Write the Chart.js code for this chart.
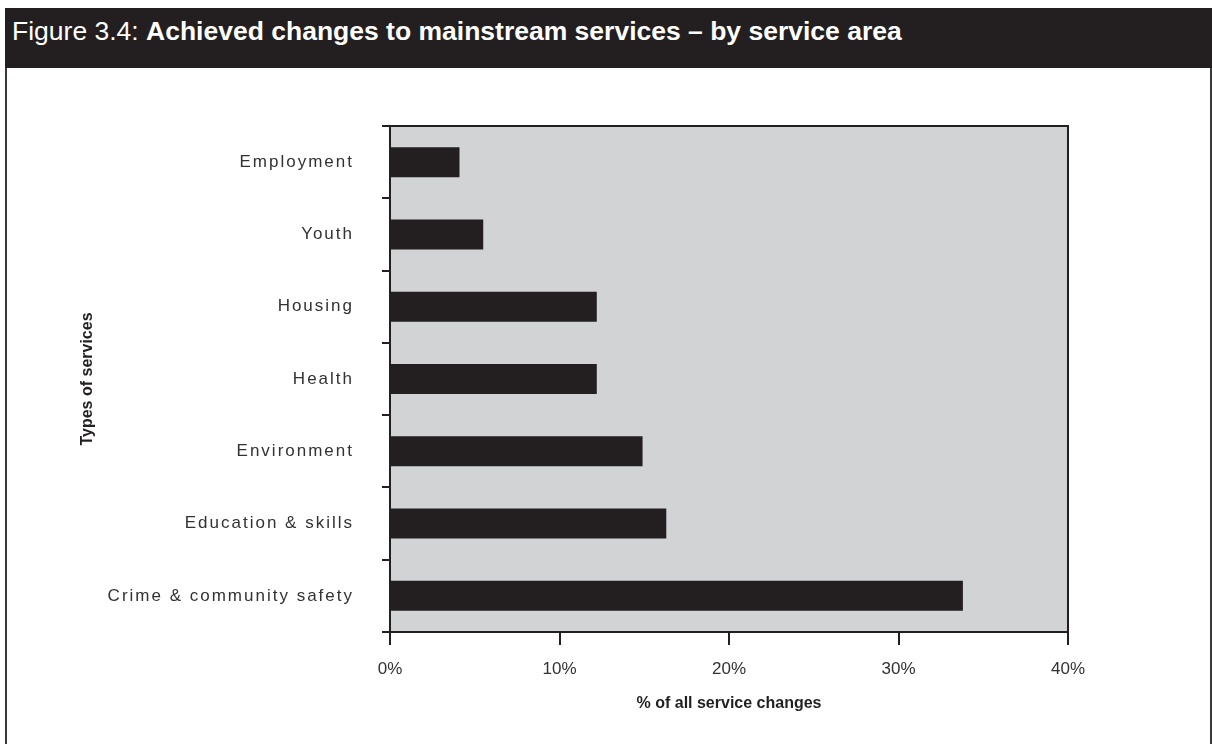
<!DOCTYPE html>
<html>
<head>
<meta charset="utf-8">
<title>Figure 3.4: Achieved changes to mainstream services – by service area</title>
<script src="https://cdn.jsdelivr.net/npm/chart.js@4/dist/chart.umd.min.js"></script>
<style>
  html, body { margin: 0; padding: 0; background: #ffffff; }
  #page { position: relative; width: 1212px; height: 744px; overflow: hidden; }
  #frame {
    position: absolute; left: 5px; top: 8px; width: 1203px; height: 760px;
    border-left: 2px solid #3a3839; border-right: 2px solid #3a3839;
  }
  #header {
    position: absolute; left: 5px; top: 8px; width: 1207px; height: 60px;
    background: #231f20; color: #ffffff;
    font-family: "Liberation Sans", Arial, Helvetica, sans-serif;
    font-size: 26.5px; line-height: 46px; white-space: nowrap;
  }
  #header span.lead { font-weight: normal; padding-left: 7px; }
  #header span.main { font-weight: bold; }
  #chart { position: absolute; left: 0; top: 0; }
</style>
</head>
<body>
<div id="page">
  <div id="frame"></div>
  <div id="header"><span class="lead">Figure 3.4: </span><span class="main">Achieved changes to mainstream services – by service area</span></div>
  <canvas id="chart" width="1212" height="744"></canvas>
</div>
<script>
// Service areas, top to bottom
const categories = [
  'Employment',
  'Youth',
  'Housing',
  'Health',
  'Environment',
  'Education & skills',
  'Crime & community safety'
];

// Share of all achieved service changes (%)
const shares = [4.1, 5.5, 12.2, 12.2, 14.9, 16.3, 33.8];

// Percentage axis
const xMin = 0;
const xMax = 40;
const xStep = 10;

const axisTitleX = '% of all service changes';
const axisTitleY = 'Types of services';

const INK = '#231f20';
const PLOT_BG = '#d1d3d4';
const FONT = '"Liberation Sans", Arial, Helvetica, sans-serif';

// Grey plot background plus the top and right frame lines of the plot area
const plotFrame = {
  id: 'plotFrame',
  beforeDraw(chart) {
    const { ctx, chartArea: a } = chart;
    ctx.save();
    ctx.fillStyle = PLOT_BG;
    ctx.fillRect(a.left, a.top, a.right - a.left, a.bottom - a.top);
    ctx.restore();
  },
  afterDraw(chart) {
    const { ctx, chartArea: a } = chart;
    ctx.save();
    ctx.strokeStyle = INK;
    ctx.lineWidth = 2;
    ctx.beginPath();
    ctx.moveTo(a.left, a.top);
    ctx.lineTo(a.right, a.top);
    ctx.lineTo(a.right, a.bottom);
    ctx.stroke();
    ctx.restore();
  }
};

// Slightly tracked category labels on the vertical axis
const trackedLabels = {
  id: 'trackedLabels',
  afterLayout(chart) {
    const s = chart.scales.y;
    if (s && !s.__tracked) {
      const orig = s.drawLabels.bind(s);
      s.drawLabels = function (area) {
        const c = this.ctx;
        c.save();
        c.letterSpacing = '2px';
        orig(area);
        c.restore();
      };
      s.__tracked = true;
    }
  }
};

new Chart(document.getElementById('chart'), {
  type: 'bar',
  data: {
    labels: categories,
    datasets: [{
      data: shares,
      backgroundColor: INK,
      borderWidth: 0,
      barPercentage: 0.415,
      categoryPercentage: 1
    }]
  },
  options: {
    indexAxis: 'y',
    responsive: false,
    devicePixelRatio: 1,
    animation: false,
    layout: { padding: { top: 126, right: 144, bottom: 27, left: 74 } },
    plugins: {
      legend: { display: false },
      tooltip: { enabled: false },
      title: { display: false }
    },
    scales: {
      x: {
        type: 'linear',
        min: xMin,
        max: xMax,
        afterFit(scale) { scale.height = 85; },
        ticks: {
          stepSize: xStep,
          padding: 14,
          color: '#333132',
          font: { family: FONT, size: 17 },
          callback: (v) => v + '%'
        },
        grid: {
          drawOnChartArea: false,
          drawTicks: true,
          tickLength: 13,
          tickColor: INK,
          lineWidth: 2
        },
        border: { display: true, color: INK, width: 2 },
        title: {
          display: true,
          text: axisTitleX,
          color: INK,
          font: { family: FONT, size: 16, weight: 'bold' },
          padding: { top: 4, bottom: 4 }
        }
      },
      y: {
        afterFit(scale) { scale.width = 390 - 74; },
        ticks: {
          padding: 28,
          color: '#333132',
          font: { family: FONT, size: 17 }
        },
        grid: {
          offset: true,
          drawOnChartArea: false,
          drawTicks: true,
          tickLength: 8,
          tickColor: INK,
          lineWidth: 2
        },
        border: { display: true, color: INK, width: 2 },
        title: {
          display: true,
          text: axisTitleY,
          color: INK,
          font: { family: FONT, size: 16, weight: 'bold' },
          padding: { top: 4, bottom: 4 }
        }
      }
    }
  },
  plugins: [plotFrame, trackedLabels]
});
</script>
</body>
</html>
